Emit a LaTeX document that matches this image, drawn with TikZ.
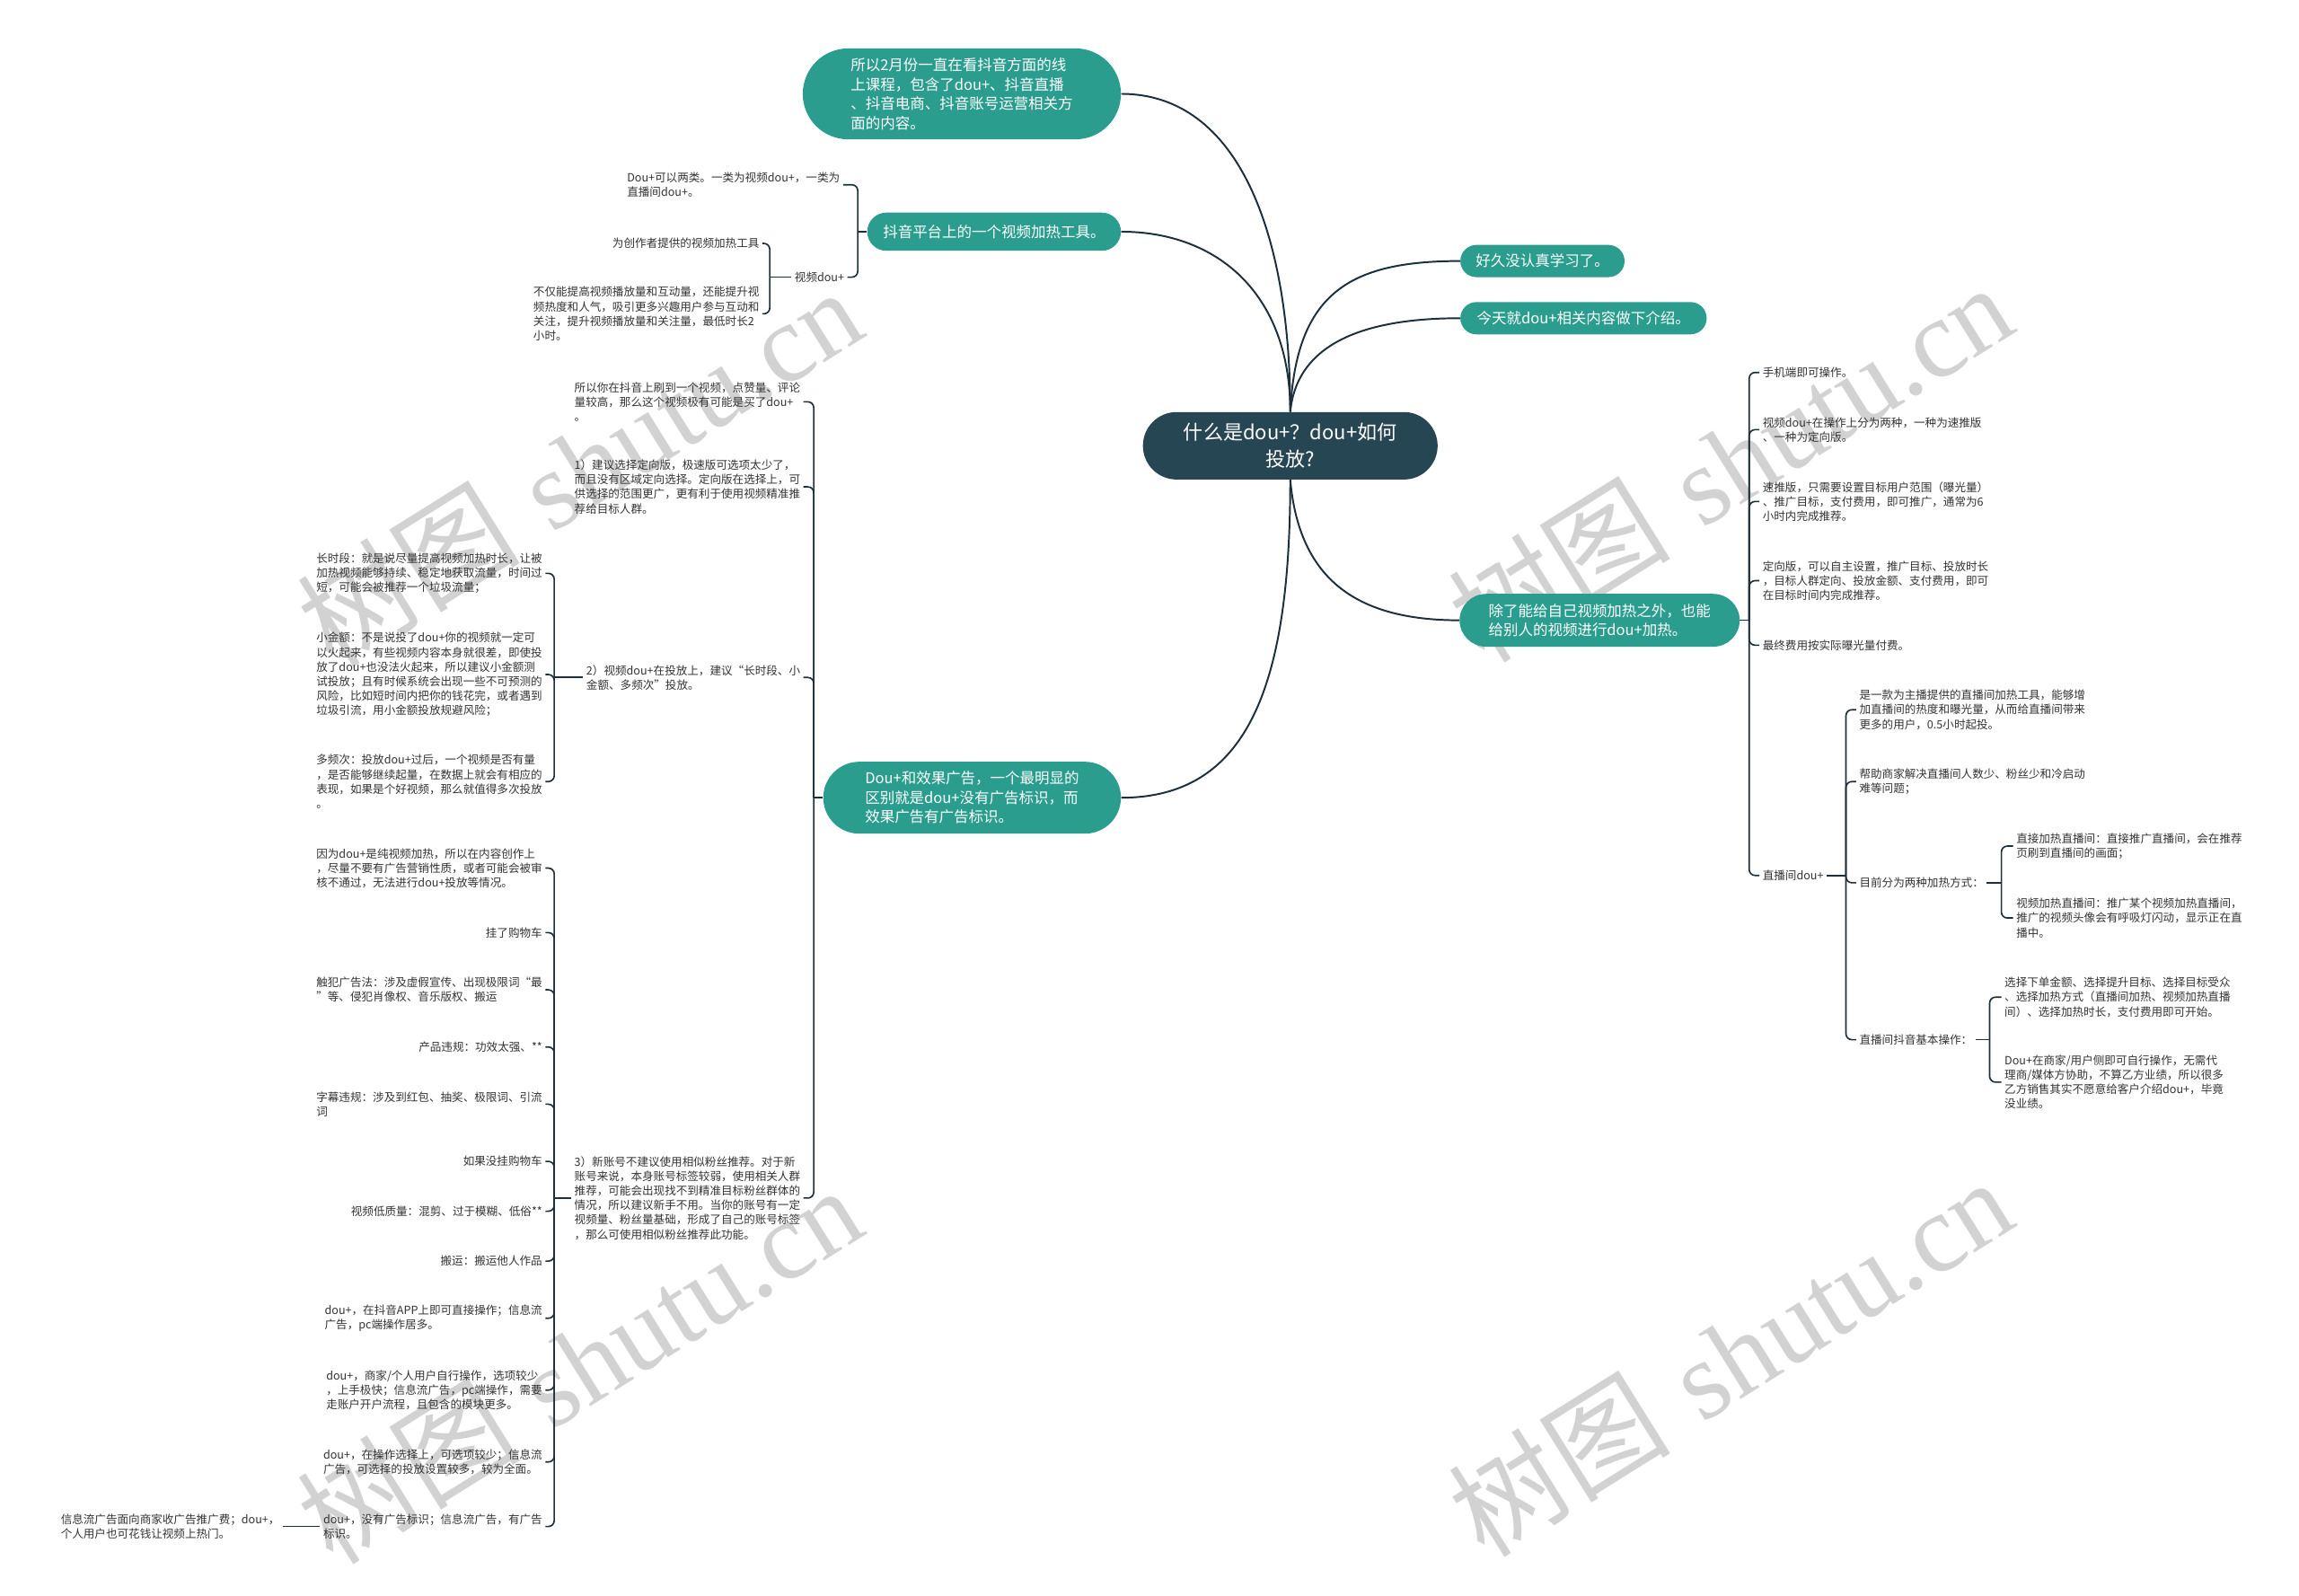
\documentclass[tikz,border=0pt]{standalone}
\usepackage{fontspec}
\newfontfamily\cjk{Noto Sans CJK SC}
\newfontfamily\wmserif{Liberation Serif}
\usetikzlibrary{shapes.misc}
\definecolor{tealA}{HTML}{2A9D8F}
\definecolor{deep}{HTML}{264653}
\definecolor{ln}{HTML}{1C2F3A}
\definecolor{txt}{HTML}{333333}
\definecolor{wmc}{HTML}{D2D2D2}
\begin{document}
\begin{tikzpicture}[x=1pt,y=-1pt,
  mainnode/.style={rounded rectangle, fill=tealA, text=white, font=\cjk\fontsize{10.1}{13.2}\selectfont, align=left, inner sep=0pt},
  rootnode/.style={rounded rectangle, fill=deep, text=white, font=\cjk\fontsize{13.5}{18}\selectfont, align=center, inner sep=0pt, minimum width=201pt, minimum height=46pt},
  leafL/.style={font=\cjk\fontsize{7.7}{9.9}\selectfont, text=txt, align=left, inner xsep=2pt, inner ysep=1pt, anchor=east},
  leafR/.style={font=\cjk\fontsize{7.7}{9.9}\selectfont, text=txt, align=left, inner xsep=2pt, inner ysep=1pt, anchor=west},
  curve/.style={draw=ln, line width=1.2pt},
  brace/.style={draw=ln, line width=1pt, rounded corners=4pt},
  wmark/.style={text=wmc, rotate=32, font=\fontsize{76}{80}\selectfont, inner sep=0pt}
]
\useasboundingbox (0,0) rectangle (1568,1088);
\fill[white] (0,0) rectangle (1568,1088);

% watermarks
\node[wmark] (wm1) at (395,318) {{\cjk 树图} {\wmserif shutu.cn}};
\node[wmark] (wm2) at (1180,315) {{\cjk 树图} {\wmserif shutu.cn}};
\node[wmark] (wm3) at (395,930) {{\cjk 树图} {\wmserif shutu.cn}};
\node[wmark] (wm4) at (1180,925) {{\cjk 树图} {\wmserif shutu.cn}};

% root and main topics
\node[rootnode] (root) at (880,304) {什么是dou+？dou+如何\\投放?};
\node[mainnode, minimum width=217pt, minimum height=62pt] (t1) at (656,64) {所以2月份一直在看抖音方面的线\\上课程，包含了dou+、抖音直播\\、抖音电商、抖音账号运营相关方\\面的内容。};
\node[mainnode, minimum width=173pt, minimum height=26pt] (t2) at (678,158) {抖音平台上的一个视频加热工具。};
\node[mainnode, minimum width=112pt, minimum height=22pt] (r1) at (1052,178) {好久没认真学习了。};
\node[mainnode, minimum width=168pt, minimum height=22pt] (r2) at (1080,217) {今天就dou+相关内容做下介绍。};
\node[mainnode, minimum width=191pt, minimum height=36pt] (r3) at (1091,423) {除了能给自己视频加热之外，也能\\给别人的视频进行dou+加热。};
\node[mainnode, minimum width=203pt, minimum height=49pt] (l3) at (663,544) {Dou+和效果广告，一个最明显的\\区别就是dou+没有广告标识，而\\效果广告有广告标识。};

\draw[curve] (root.north) .. controls (880,160) and (845,64) .. (t1.east);
\draw[curve] (root.north) .. controls (880,200) and (830,158) .. (t2.east);
\draw[curve] (root.north) .. controls (884,200) and (920,178) .. (r1.west);
\draw[curve] (root.north) .. controls (884,240) and (920,217) .. (r2.west);
\draw[curve] (root.south) .. controls (886,395) and (925,423) .. (r3.west);
\draw[curve] (root.south) .. controls (880,470) and (850,544) .. (l3.east);

% ---- T2 subtree
\node[leafL] (a1) at (575,126) {Dou+可以两类。一类为视频dou+，一类为\\直播间dou+。};
\node[leafL] (a2) at (578,189) {视频dou+};
\node[leafL] (b1) at (520,166) {为创作者提供的视频加热工具};
\node[leafL] (b2) at (520,214) {不仅能提高视频播放量和互动量，还能提升视\\频热度和人气，吸引更多兴趣用户参与互动和\\关注，提升视频播放量和关注量，最低时长2\\小时。};
\coordinate (st2) at (585,158);
\draw[brace] (t2.west) -- (st2);
\draw[brace] (st2) |- (a1.east);
\draw[brace] (st2) |- (a2.east);
\coordinate (sa2) at (525,189);
\draw[brace] (a2.west) -- (sa2);
\draw[brace] (sa2) |- (b1.east);
\draw[brace] (sa2) |- (b2.east);

% ---- R3 subtree
\node[leafR] (c1) at (1200,254) {手机端即可操作。};
\node[leafR] (c2) at (1200,293) {视频dou+在操作上分为两种，一种为速推版\\、一种为定向版。};
\node[leafR] (c3) at (1200,342) {速推版，只需要设置目标用户范围（曝光量）\\、推广目标，支付费用，即可推广，通常为6\\小时内完成推荐。};
\node[leafR] (c4) at (1200,396) {定向版，可以自主设置，推广目标、投放时长\\，目标人群定向、投放金额、支付费用，即可\\在目标时间内完成推荐。};
\node[leafR] (c5) at (1200,440) {最终费用按实际曝光量付费。};
\node[leafR] (c6) at (1200,597) {直播间dou+};
\coordinate (sr3) at (1193,423);
\draw[brace] (r3.east) -- (sr3);
\foreach \n in {c1,c2,c3,c4,c5,c6} \draw[brace] (sr3) |- (\n.west);

\node[leafR] (d1) at (1266,484) {是一款为主播提供的直播间加热工具，能够增\\加直播间的热度和曝光量，从而给直播间带来\\更多的用户，0.5小时起投。};
\node[leafR] (d2) at (1266,533) {帮助商家解决直播间人数少、粉丝少和冷启动\\难等问题；};
\node[leafR] (d3) at (1266,602) {目前分为两种加热方式：};
\node[leafR] (d4) at (1266,709) {直播间抖音基本操作：};
\coordinate (sc6) at (1259,597);
\draw[brace] (c6.east) -- (sc6);
\foreach \n in {d1,d2,d3,d4} \draw[brace] (sc6) |- (\n.west);

\node[leafR] (e1) at (1373,577) {直接加热直播间：直接推广直播间，会在推荐\\页刷到直播间的画面；};
\node[leafR] (e2) at (1373,626) {视频加热直播间：推广某个视频加热直播间，\\推广的视频头像会有呼吸灯闪动，显示正在直\\播中。};
\coordinate (sd3) at (1365,602);
\draw[brace] (d3.east) -- (sd3);
\draw[brace] (sd3) |- (e1.west);
\draw[brace] (sd3) |- (e2.west);

\node[leafR] (f1) at (1365,680) {选择下单金额、选择提升目标、选择目标受众\\、选择加热方式（直播间加热、视频加热直播\\间）、选择加热时长，支付费用即可开始。};
\node[leafR] (f2) at (1365,738) {Dou+在商家/用户侧即可自行操作，无需代\\理商/媒体方协助，不算乙方业绩，所以很多\\乙方销售其实不愿意给客户介绍dou+，毕竟\\没业绩。};
\coordinate (sd4) at (1357,709);
\draw[brace] (d4.east) -- (sd4);
\draw[brace] (sd4) |- (f1.west);
\draw[brace] (sd4) |- (f2.west);

% ---- L3 subtree
\node[leafL] (g1) at (548,274) {所以你在抖音上刷到一个视频，点赞量、评论\\量较高，那么这个视频极有可能是买了dou+\\。};
\node[leafL] (g2) at (548,332) {1）建议选择定向版，极速版可选项太少了，\\而且没有区域定向选择。定向版在选择上，可\\供选择的范围更广，更有利于使用视频精准推\\荐给目标人群。};
\node[leafL] (g3) at (548,462) {2）视频dou+在投放上，建议“长时段、小\\金额、多频次”投放。};
\node[leafL] (g4) at (548,817) {3）新账号不建议使用相似粉丝推荐。对于新\\账号来说，本身账号标签较弱，使用相关人群\\推荐，可能会出现找不到精准目标粉丝群体的\\情况，所以建议新手不用。当你的账号有一定\\视频量、粉丝量基础，形成了自己的账号标签\\，那么可使用相似粉丝推荐此功能。};
\coordinate (sl3) at (555,544);
\draw[brace] (l3.west) -- (sl3);
\foreach \n in {g1,g2,g3,g4} \draw[brace] (sl3) |- (\n.east);

\node[leafL] (h1) at (372,391) {长时段：就是说尽量提高视频加热时长，让被\\加热视频能够持续、稳定地获取流量，时间过\\短，可能会被推荐一个垃圾流量；};
\node[leafL] (h2) at (372,460) {小金额：不是说投了dou+你的视频就一定可\\以火起来，有些视频内容本身就很差，即使投\\放了dou+也没法火起来，所以建议小金额测\\试投放；且有时候系统会出现一些不可预测的\\风险，比如短时间内把你的钱花完，或者遇到\\垃圾引流，用小金额投放规避风险；};
\node[leafL] (h3) at (372,533) {多频次：投放dou+过后，一个视频是否有量\\，是否能够继续起量，在数据上就会有相应的\\表现，如果是个好视频，那么就值得多次投放\\。};
\coordinate (sg3) at (378,462);
\draw[brace] (g3.west) -- (sg3);
\foreach \n in {h1,h2,h3} \draw[brace] (sg3) |- (\n.east);

\node[leafL] (i1) at (372,592) {因为dou+是纯视频加热，所以在内容创作上\\，尽量不要有广告营销性质，或者可能会被审\\核不通过，无法进行dou+投放等情况。};
\node[leafL] (i2) at (372,636) {挂了购物车};
\node[leafL] (i3) at (372,675) {触犯广告法：涉及虚假宣传、出现极限词“最\\”等、侵犯肖像权、音乐版权、搬运};
\node[leafL] (i4) at (372,714) {产品违规：功效太强、**};
\node[leafL] (i5) at (372,753) {字幕违规：涉及到红包、抽奖、极限词、引流\\词};
\node[leafL] (i6) at (372,792) {如果没挂购物车};
\node[leafL] (i7) at (372,826) {视频低质量：混剪、过于模糊、低俗**};
\node[leafL] (i8) at (372,860) {搬运：搬运他人作品};
\node[leafL] (i9) at (372,899) {dou+，在抖音APP上即可直接操作；信息流\\广告，pc端操作居多。};
\node[leafL] (i10) at (372,948) {dou+，商家/个人用户自行操作，选项较少\\，上手极快；信息流广告，pc端操作，需要\\走账户开户流程，且包含的模块更多。};
\node[leafL] (i11) at (372,997) {dou+，在操作选择上，可选项较少；信息流\\广告，可选择的投放设置较多，较为全面。};
\node[leafL] (i12) at (372,1041) {dou+，没有广告标识；信息流广告，有广告\\标识。};
\coordinate (sg4) at (378,817);
\draw[brace] (g4.west) -- (sg4);
\foreach \n in {i1,i2,i3,i4,i5,i6,i7,i8,i9,i10,i11,i12} \draw[brace] (sg4) |- (\n.east);

\node[leafL] (j1) at (193,1041) {信息流广告面向商家收广告推广费；dou+，\\个人用户也可花钱让视频上热门。};
\draw[brace] (i12.west) -- (j1.east);
\end{tikzpicture}
\end{document}
